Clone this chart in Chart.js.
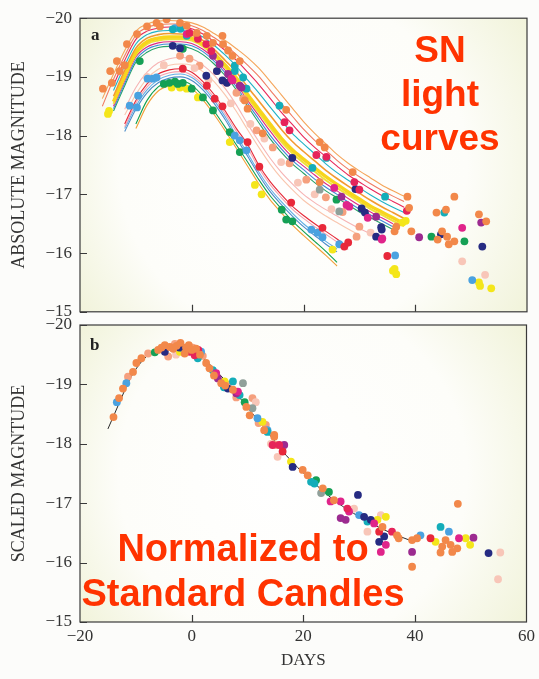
<!DOCTYPE html>
<html>
<head>
<meta charset="utf-8">
<script src="https://cdn.jsdelivr.net/npm/chart.js@4.4.1/dist/chart.umd.min.js"></script>
<style>
  body { margin: 0; background: #fcfcfa; }
  #wrap { position: relative; width: 539px; height: 679px; overflow: hidden; }
  canvas { position: absolute; left: 0; }
  #chartA { top: 0; }
  #chartB { top: 300px; }
  .tag { position: absolute; font: bold 17px 'Liberation Serif', serif; line-height: 17px; color: #222; }
  .note { position: absolute; font-family: 'Liberation Sans', Arial, sans-serif; font-weight: bold;
          color: #ff3300; text-align: center; }
</style>
</head>
<body>
<div id="wrap">
  <canvas id="chartA" width="539" height="330"></canvas>
  <canvas id="chartB" width="539" height="379"></canvas>
  <div class="tag" style="left:91px; top:26px;">a</div>
  <div class="tag" style="left:90px; top:336px;">b</div>
  <div class="note" style="left:340px; top:28px; width:200px; font-size:37px; line-height:44px;">SN<br>light<br>curves</div>
  <div class="note" style="left:43px; top:526px; width:400px; font-size:38px; line-height:45px;">Normalized to<br>Standard Candles</div>
</div>
<script>
// ---- fitted light curves (panel a), magnitudes at the shared days ----
const curveDays = [-16, -14, -12, -10, -8, -6, -4, -2, 0, 2, 4, 6, 8, 10, 12, 14, 16, 18, 20, 22, 24, 26, 28, 30, 32, 34, 36, 38];

const curveTopOrange = [-18.63, -19.05, -19.45, -19.78, -19.90, -19.95, -19.96, -19.95, -19.92, -19.85, -19.74, -19.62, -19.48, -19.33, -19.15, -18.93, -18.70, -18.47, -18.24, -18.04, -17.86, -17.68, -17.53, -17.40, -17.28, -17.16, -17.06, -16.97];
const curveCoral = [-18.50, -18.96, -19.36, -19.71, -19.84, -19.89, -19.90, -19.90, -19.87, -19.79, -19.67, -19.54, -19.38, -19.20, -19.01, -18.78, -18.55, -18.33, -18.11, -17.92, -17.75, -17.58, -17.43, -17.30, -17.18, -17.07, -16.97, -16.88];
const curveCrimson = [null, -18.86, -19.28, -19.64, -19.78, -19.83, -19.85, -19.84, -19.82, -19.73, -19.60, -19.45, -19.28, -19.08, -18.87, -18.64, -18.40, -18.19, -17.98, -17.80, -17.64, -17.48, -17.33, -17.21, -17.09, -16.98, -16.88, -16.78];
const curveTeal = [null, -18.77, -19.19, -19.56, -19.72, -19.78, -19.79, -19.79, -19.76, -19.68, -19.54, -19.37, -19.18, -18.95, -18.73, -18.49, -18.26, -18.04, -17.86, -17.69, -17.52, -17.37, -17.24, -17.11, -16.99, -16.88, -16.78, -16.69];
const curveOrange = [null, -18.67, -19.11, -19.49, -19.66, -19.72, -19.74, -19.73, -19.71, -19.62, -19.47, -19.28, -19.08, -18.83, -18.59, -18.35, -18.11, -17.90, -17.73, -17.57, -17.41, -17.27, -17.14, -17.02, -16.90, -16.79, -16.69, -16.59];
const curveYellow = [null, -18.58, -19.02, -19.42, -19.60, -19.66, -19.68, -19.68, -19.66, -19.56, -19.40, -19.20, -18.98, -18.70, -18.45, -18.20, -17.96, -17.76, -17.60, -17.45, -17.30, -17.17, -17.04, -16.92, -16.80, -16.70, -16.60, -16.50];
const curveYellow2 = [null, -18.54, -18.98, -19.38, -19.56, -19.62, -19.64, -19.64, -19.62, -19.52, -19.36, -19.16, -18.93, -18.65, -18.39, -18.14, -17.90, -17.70, -17.54, -17.39, -17.24, -17.11, -16.99, -16.87, -16.75, -16.65, -16.55, -16.46];
const curveMagenta = [null, -18.50, -18.94, -19.34, -19.51, -19.58, -19.60, -19.60, -19.57, -19.47, -19.31, -19.11, -18.88, -18.60, -18.34, -18.08, -17.84, -17.64, -17.48, -17.33, -17.18, -17.06, -16.93, -16.81, -16.70, -16.60, -16.50, null];
const curveBlue = [null, -18.46, -18.89, -19.29, -19.47, -19.54, -19.56, -19.56, -19.53, -19.43, -19.27, -19.07, -18.83, -18.55, -18.28, -18.01, -17.78, -17.58, -17.42, -17.26, -17.12, -17.00, -16.87, -16.75, -16.65, -16.55, -16.45, null];
const curveGreen = [null, -18.42, -18.85, -19.25, -19.42, -19.50, -19.52, -19.52, -19.48, -19.38, -19.22, -19.02, -18.78, -18.50, -18.22, -17.95, -17.72, -17.52, -17.36, -17.20, -17.06, -16.94, -16.82, -16.70, -16.60, -16.50, -16.40, null];
const curvePalePink = [null, null, -18.45, -18.82, -19.08, -19.24, -19.31, -19.33, -19.31, -19.20, -19.03, -18.80, -18.52, -18.20, -17.90, -17.62, -17.38, -17.18, -17.00, -16.86, -16.74, -16.63, -16.52, -16.42, -16.33, null, null, null];
const curvePaleSalmon = [null, null, -18.35, -18.70, -18.97, -19.13, -19.20, -19.22, -19.20, -19.09, -18.92, -18.69, -18.41, -18.10, -17.80, -17.52, -17.28, -17.08, -16.90, -16.76, -16.63, -16.52, -16.41, -16.31, null, null, null, null];
const curveLowRed = [null, null, -18.20, -18.60, -18.88, -19.05, -19.12, -19.14, -19.08, -18.92, -18.70, -18.42, -18.12, -17.85, -17.50, -17.22, -17.00, -16.80, -16.64, -16.50, -16.37, -16.24, -16.10, null, null, null, null, null];
const curveLowPink = [null, null, -18.15, -18.55, -18.83, -19.00, -19.07, -19.09, -19.03, -18.87, -18.65, -18.37, -18.07, -17.79, -17.45, -17.17, -16.95, -16.75, -16.59, -16.45, -16.32, -16.19, -16.06, null, null, null, null, null];
const curveLowSky = [null, null, -18.12, -18.50, -18.78, -18.95, -19.03, -19.05, -18.99, -18.83, -18.60, -18.32, -18.00, -17.70, -17.38, -17.10, -16.88, -16.68, -16.50, -16.35, -16.20, -16.07, null, null, null, null, null, null];
const curveLowSteel = [null, null, -18.07, -18.45, -18.73, -18.90, -18.98, -19.00, -18.94, -18.78, -18.55, -18.27, -17.95, -17.65, -17.33, -17.05, -16.83, -16.63, -16.45, -16.30, -16.15, -16.02, null, null, null, null, null, null];
const curveLowGreen = [null, null, null, -18.20, -18.60, -18.83, -18.92, -18.93, -18.86, -18.67, -18.42, -18.14, -17.84, -17.55, -17.25, -16.98, -16.76, -16.55, -16.37, -16.20, -16.03, -15.84, null, null, null, null, null, null];
const curveLowOrange = [null, null, null, -18.12, -18.52, -18.76, -18.85, -18.87, -18.80, -18.61, -18.36, -18.08, -17.78, -17.48, -17.18, -16.91, -16.69, -16.48, -16.30, -16.13, -15.96, -15.78, null, null, null, null, null, null];

// ---- observations, panel a: [day, magnitude] ----
const aOrange = [[-15.9, -18.8], [-14.6, -19.1], [-14.3, -18.9], [-13.4, -19.27], [-12.9, -19.1], [-12.0, -19.2], [-11.6, -19.56], [-9.8, -19.73], [-8.0, -19.86], [-6.3, -19.92], [-5.7, -19.86], [-4.5, -19.98], [-2.1, -19.92], [-0.9, -19.87], [0.9, -19.75], [2.7, -19.7], [3.8, -19.58], [5.5, -19.7], [5.6, -19.56], [6.5, -19.45], [7.3, -19.36], [8.6, -19.27], [9.5, -18.6], [10.0, -18.46], [12.7, -18.04], [16.9, -18.44], [22.9, -17.89], [23.8, -17.8], [22.9, -17.21], [28.8, -17.38], [38.6, -16.96], [38.9, -16.77], [36.3, -16.37], [36.6, -16.45], [47.0, -16.96], [43.8, -16.69], [45.5, -16.74], [44.8, -16.37], [44.0, -16.23], [45.7, -16.28], [46.0, -16.15], [47.0, -16.2], [39.3, -16.37], [52.7, -16.54], [51.4, -16.66]];
const aSalmon = [[-2.1, -19.36], [-0.4, -19.31], [1.4, -19.19], [4.5, -19.1], [6.3, -18.9], [8.0, -18.73], [9.2, -18.63], [11.6, -18.09], [14.5, -17.8], [17.5, -17.53], [20.5, -17.25], [24.0, -16.95], [27.0, -16.7], [30.0, -16.45], [29.5, -16.28]];
const aPale = [[-8.0, -19.0], [-5.0, -19.2], [0.5, -19.15], [3.0, -18.95], [7.0, -18.55], [10.5, -18.2], [13.0, -17.95], [16.0, -17.55], [19.0, -17.2], [22.0, -17.0], [25.0, -16.75], [32.0, -16.35], [48.4, -15.86], [52.5, -15.63]];
const aCrimson = [[-0.4, -19.75], [1.1, -19.65], [2.6, -19.56], [3.5, -19.44], [16.6, -18.23], [17.5, -18.09], [22.3, -17.67], [24.1, -17.64], [29.1, -17.21], [30.0, -17.08], [38.5, -16.72]];
const aRed = [[-1.6, -19.14], [2.7, -18.85], [4.1, -18.63], [5.5, -18.5], [10.0, -17.89], [12.1, -17.47], [17.8, -16.86], [23.4, -16.43], [27.3, -16.11], [28.0, -16.18], [35.0, -15.95]];
const aMagenta = [[-0.9, -19.73], [7.1, -18.97], [7.3, -18.94], [25.5, -17.11], [27.7, -16.82], [28.2, -16.79], [31.5, -16.6], [34.0, -16.23], [34.1, -16.25], [48.4, -16.43]];
const aPurple = [[3.8, -19.36], [5.0, -19.22], [6.5, -19.05], [8.6, -18.85], [8.9, -18.82], [26.8, -16.96], [33.0, -16.62], [40.7, -16.27], [51.8, -16.52]];
const aNavy = [[-3.4, -19.53], [-2.1, -19.49], [2.6, -19.02], [4.5, -19.1], [5.5, -18.94], [6.3, -18.9], [18.0, -17.62], [29.3, -17.09], [30.4, -16.76], [31.0, -16.69], [33.0, -16.28], [34.0, -16.4], [33.9, -16.44], [44.6, -16.32], [52.0, -16.11]];
const aTeal = [[-3.4, -19.81], [-2.0, -19.82], [-0.9, -19.7], [7.7, -19.1], [7.7, -19.19], [9.2, -18.99], [9.8, -18.8], [15.7, -18.51], [21.6, -17.45], [24.1, -17.62], [34.6, -16.96], [45.2, -16.69]];
const aBlue = [[-11.1, -18.51], [-9.8, -18.48], [-9.6, -18.68], [-7.9, -18.97], [-7.0, -18.97], [-6.3, -18.99], [-3.0, -19.83], [7.7, -18.0], [8.6, -17.92], [9.8, -17.75], [21.4, -16.4], [22.5, -16.35], [23.4, -16.27], [26.4, -16.15], [36.4, -15.96], [50.2, -15.54]];
const aGreen = [[-9.3, -19.27], [-5.0, -18.88], [-4.0, -18.9], [-3.0, -18.92], [-2.5, -18.88], [-1.6, -18.9], [-1.6, -19.48], [0.0, -18.8], [2.0, -18.65], [3.8, -18.43], [6.8, -18.06], [8.6, -17.72], [16.1, -16.74], [16.9, -16.57], [18.0, -16.54], [25.9, -16.91], [42.9, -16.28], [48.8, -16.2]];
const aYellow = [[-15.0, -18.37], [-14.8, -18.42], [-3.6, -18.82], [-2.1, -18.82], [-0.9, -18.8], [1.1, -18.65], [6.8, -17.89], [11.3, -17.16], [12.5, -17.0], [25.2, -16.06], [37.7, -16.52], [38.3, -16.55], [36.0, -15.7], [36.3, -15.73], [36.6, -15.64], [51.4, -15.5], [51.6, -15.44], [53.6, -15.4]];
const aGrey = [[22.9, -17.08], [26.4, -16.71]];

// ---- panel b: template curve and rescaled observations ----
const templateDays = [-15, -13, -11, -9, -7, -5, -3, -1, 1, 3, 5, 7, 9, 11, 13, 15, 17, 19, 21, 23, 25, 27, 29, 31, 33, 35, 37, 39];
const templateMags = [-18.25, -18.68, -19.1, -19.38, -19.55, -19.63, -19.66, -19.62, -19.52, -19.36, -19.17, -18.96, -18.73, -18.5, -18.27, -18.03, -17.8, -17.6, -17.42, -17.25, -17.09, -16.95, -16.83, -16.72, -16.62, -16.53, -16.45, -16.38];

const bOrange = [[-14.0, -18.45], [-13.0, -18.77], [-12.3, -18.93], [-10.5, -19.21], [-9.9, -19.36], [-9.0, -19.44], [-6.0, -19.58], [-5.4, -19.62], [-4.8, -19.66], [-3.9, -19.63], [-3.3, -19.6], [-2.7, -19.65], [-2.0, -19.7], [-1.25, -19.52], [-1.0, -19.62], [-0.5, -19.66], [0.0, -19.58], [0.8, -19.6], [1.5, -19.5], [2.6, -19.36], [3.2, -19.27], [4.0, -19.15], [5.3, -19.02], [6.0, -18.98], [7.4, -18.91], [9.8, -18.62], [10.4, -18.48], [13.0, -18.23], [14.8, -18.12], [14.8, -18.15], [19.9, -17.56], [20.8, -17.47], [23.5, -17.25], [25.5, -17.05], [34.2, -16.6], [36.8, -16.46], [37.1, -16.41], [39.5, -16.38], [40.4, -16.41], [44.9, -16.27], [45.5, -16.38], [46.4, -16.3], [46.7, -16.18], [47.6, -16.24], [47.7, -16.99], [44.6, -16.17], [39.5, -15.93]];
const bSalmon = [[-11.4, -19.13], [-7.8, -19.52], [-4.2, -19.47], [-3.0, -19.68], [-1.8, -19.64], [0.2, -19.62], [1.0, -19.55], [2.0, -19.48], [6.5, -19.0], [8.0, -18.78], [10.9, -18.77], [12.0, -18.35], [13.3, -18.32], [15.1, -17.98]];
const bPale = [[-2.8, -19.5], [11.5, -18.7], [14.2, -18.0], [15.4, -17.78], [29.1, -16.91], [31.5, -16.52], [33.9, -16.8], [55.3, -16.17], [54.9, -15.72]];
const bCrimson = [[-0.36, -19.55], [0.54, -19.49], [1.2, -19.58], [14.5, -17.98], [15.7, -17.98], [27.9, -16.91], [35.9, -16.52]];
const bRed = [[16.3, -17.87], [33.6, -16.52], [42.8, -16.41]];
const bMagenta = [[4.4, -19.19], [8.3, -18.88], [24.9, -17.03], [26.7, -17.03], [28.2, -16.86], [32.7, -16.66], [34.8, -16.3], [33.9, -16.18], [47.9, -16.41]];
const bPurple = [[4.7, -19.1], [8.0, -18.85], [16.6, -17.98], [26.7, -16.75], [27.6, -16.72], [39.5, -16.18], [50.5, -16.42]];
const bNavy = [[-4.8, -19.55], [-2.2, -19.62], [6.5, -18.93], [18.1, -17.61], [29.8, -17.14], [30.9, -16.77], [32.1, -16.72], [34.5, -16.44], [33.6, -16.35], [53.2, -16.16]];
const bTeal = [[-1.55, -19.61], [1.1, -19.44], [3.8, -19.24], [5.8, -18.95], [7.4, -19.05], [8.6, -18.82], [13.6, -18.2], [21.4, -17.36], [22.0, -17.33], [31.5, -16.69], [44.6, -16.6]];
const bBlue = [[-13.4, -18.7], [-11.7, -19.02], [1.7, -19.55], [11.8, -18.43], [13.6, -18.23], [30.0, -16.8], [41.0, -16.46], [46.1, -16.52]];
const bGreen = [[-6.6, -19.54], [9.5, -18.7], [22.3, -17.39], [24.6, -17.19]];
const bYellow = [[-2.1, -19.55], [5.9, -19.05], [12.7, -18.37], [17.8, -17.7], [33.3, -16.72], [34.8, -16.77], [43.7, -16.35], [49.1, -16.41], [49.9, -16.3]];
const bGrey = [[9.2, -19.02], [10.9, -18.6], [23.2, -17.17]];

const dayTicks = [-20, 0, 20, 40, 60];
const magTicks = [-20, -19, -18, -17, -16, -15];

const SERIF = "'Liberation Serif', 'Times New Roman', serif";
const C = {
  orange: '#f2884a', salmon: '#f5a07e', pale: '#f8c6b8', crimson: '#e6245a', red: '#e8283a',
  magenta: '#e0248a', purple: '#9c2b90', navy: '#262b82', teal: '#14adb9', blue: '#4aa2e0',
  green: '#15a055', yellow: '#f4e61a', grey: '#90a09a'
};

function curve(days, mags, color, width) {
  const pts = [];
  days.forEach((d, i) => { if (mags[i] != null) pts.push({ x: d, y: mags[i] }); });
  return {
    type: 'line', data: pts, borderColor: color, borderWidth: width || 1.1,
    pointRadius: 0, fill: false, cubicInterpolationMode: 'monotone', order: 3
  };
}

function dots(pairs, color, order) {
  return {
    type: 'scatter', data: pairs.map(p => ({ x: p[0], y: p[1] })),
    backgroundColor: color, borderWidth: 0, pointRadius: 3.9, order: order || 1
  };
}

const minus = v => (v < 0 ? '\u2212' + Math.abs(v) : String(v));

// pale gradient inside the plot box, frame and inward tick marks
const plotFrame = {
  id: 'plotFrame',
  beforeDatasetsDraw(chart) {
    const { ctx, chartArea: a } = chart;
    const cx = (a.left + a.right) / 2, cy = (a.top + a.bottom) / 2;
    const r = Math.hypot(a.width, a.height) / 2;
    const g = ctx.createRadialGradient(cx - 30, cy, 0, cx, cy, r);
    g.addColorStop(0, '#ffffff');
    g.addColorStop(0.65, '#fdfdf9');
    g.addColorStop(1, '#f1f3da');
    ctx.save();
    ctx.fillStyle = g;
    ctx.fillRect(a.left, a.top, a.width, a.height);
    ctx.restore();
  },
  afterDatasetsDraw(chart) {
    const { ctx, chartArea: a, scales } = chart;
    ctx.save();
    ctx.strokeStyle = '#3a3a3a';
    ctx.lineWidth = 1.2;
    ctx.strokeRect(a.left, a.top, a.width, a.height);
    ctx.beginPath();
    magTicks.forEach(v => {
      const y = Math.round(scales.y.getPixelForValue(v)) + 0.5;
      ctx.moveTo(a.left, y); ctx.lineTo(a.left + 7, y);
    });
    dayTicks.slice(1, -1).forEach(d => {
      const x = Math.round(scales.x.getPixelForValue(d)) + 0.5;
      ctx.moveTo(x, a.bottom); ctx.lineTo(x, a.bottom - 7);
    });
    ctx.stroke();
    ctx.restore();
  }
};

function magAxis(title, size) {
  return {
    type: 'linear', min: -20, max: -15, reverse: true,
    grid: { display: false, drawTicks: false }, border: { display: false },
    afterBuildTicks: s => { s.ticks = magTicks.map(v => ({ value: v })); },
    ticks: { padding: 8, color: '#333', font: { family: SERIF, size: 17 }, callback: minus },
    title: { display: true, text: title, color: '#333', font: { family: SERIF, size: size }, padding: { top: 8, bottom: 0 } },
    afterFit: s => { s.width = 80; }
  };
}

const common = {
  responsive: false,
  animation: false,
  events: [],
  plugins: { legend: { display: false }, tooltip: { enabled: false } }
};

new Chart(document.getElementById('chartA'), {
  type: 'scatter',
  data: {
    datasets: [
      dots(aPale, C.pale, 2), dots(aSalmon, C.salmon, 2),
      dots(aOrange, C.orange), dots(aCrimson, C.crimson), dots(aRed, C.red), dots(aMagenta, C.magenta),
      dots(aPurple, C.purple), dots(aNavy, C.navy), dots(aTeal, C.teal), dots(aBlue, C.blue),
      dots(aGreen, C.green), dots(aYellow, C.yellow), dots(aGrey, C.grey),
      curve(curveDays, curveTopOrange, '#f5a55a'),
      curve(curveDays, curveCoral, '#f07a62'),
      curve(curveDays, curveCrimson, '#e8285a'),
      curve(curveDays, curveTeal, '#1fb2c6'),
      curve(curveDays, curveOrange, '#f39a30', 1.6),
      curve(curveDays, curveYellow, '#f7d51c', 3.4),
      curve(curveDays, curveYellow2, '#f0e03a', 2),
      curve(curveDays, curveMagenta, '#de2c84'),
      curve(curveDays, curveBlue, '#3e8ad6'),
      curve(curveDays, curveGreen, '#26a268'),
      curve(curveDays, curvePalePink, '#f6b4b4'),
      curve(curveDays, curvePaleSalmon, '#f9c6ae'),
      curve(curveDays, curveLowRed, '#e62838'),
      curve(curveDays, curveLowPink, '#f2a2b0'),
      curve(curveDays, curveLowSky, '#62aee6'),
      curve(curveDays, curveLowSteel, '#4a8bc9'),
      curve(curveDays, curveLowGreen, '#12a050'),
      curve(curveDays, curveLowOrange, '#f2a038')
    ]
  },
  options: {
    ...common,
    layout: { padding: { top: 17, right: 12, bottom: 17, left: 0 } },
    scales: {
      x: { type: 'linear', min: -20, max: 60, display: false },
      y: magAxis('ABSOLUTE MAGNITUDE', 18)
    }
  },
  plugins: [plotFrame]
});

new Chart(document.getElementById('chartB'), {
  type: 'scatter',
  data: {
    datasets: [
      dots(bPale, C.pale, 2), dots(bSalmon, C.salmon, 2),
      dots(bOrange, C.orange), dots(bCrimson, C.crimson), dots(bRed, C.red), dots(bMagenta, C.magenta),
      dots(bPurple, C.purple), dots(bNavy, C.navy), dots(bTeal, C.teal), dots(bBlue, C.blue),
      dots(bGreen, C.green), dots(bYellow, C.yellow), dots(bGrey, C.grey),
      curve(templateDays, templateMags, '#2a2a2a', 1)
    ]
  },
  options: {
    ...common,
    layout: { padding: { top: 25, right: 12, bottom: 0, left: 0 } },
    scales: {
      x: {
        type: 'linear', min: -20, max: 60,
        grid: { display: false, drawTicks: false }, border: { display: false },
        afterBuildTicks: s => { s.ticks = dayTicks.map(v => ({ value: v })); },
        ticks: { padding: 4, maxRotation: 0, autoSkip: false, color: '#333', font: { family: SERIF, size: 17 }, callback: minus },
        title: { display: true, text: 'DAYS', color: '#333', font: { family: SERIF, size: 17 }, padding: { top: 0, bottom: 8 } },
        afterFit: s => { s.height = 57; }
      },
      y: magAxis('SCALED MAGNTUDE', 18)
    }
  },
  plugins: [plotFrame]
});
</script>
</body>
</html>
